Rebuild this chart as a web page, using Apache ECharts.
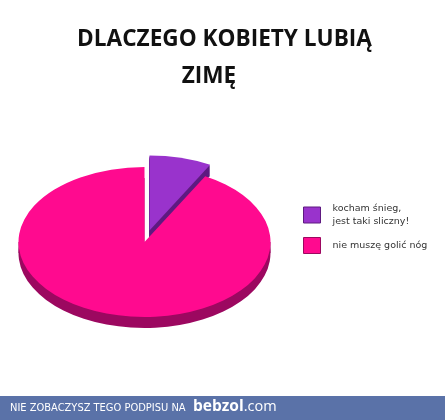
<!DOCTYPE html>
<html>
<head>
<meta charset="utf-8">
<script src="https://cdn.jsdelivr.net/npm/echarts@6/dist/echarts.min.js"></script>
<style>
html,body{margin:0;padding:0;background:#fff;}
#c{width:445px;height:420px;}
</style>
</head>
<body>
<div id="c"></div>
<script>
const titleLines = ['DLACZEGO KOBIETY LUBIĄ', 'ZIMĘ'];
const categories = ['kocham śnieg,\njest taki sliczny!', 'nie muszę golić nóg'];
const values = [8, 92];
const topColors = ['#9933cc', '#ff0a8f'];
const sideColors = ['#5e1a80', '#9c0860'];
const footerText = 'NIE ZOBACZYSZ TEGO PODPISU NA';
const footerBrand = 'bebzol';
const footerDomain = '.com';

const CX = 144.5, CY = 242, RX = 126, RY = 75, DEPTH = 11;
const SY = RY / RX;
const explodeIdx = 0, EXPLODE = 20;

const total = values.reduce((a, b) => a + b, 0);
function angles(i) {
  let s = 0;
  for (let k = 0; k < i; k++) s += values[k];
  const a0 = -Math.PI / 2 + 2 * Math.PI * s / total;
  const a1 = a0 + 2 * Math.PI * values[i] / total;
  return [a0, a1];
}

function makeRender(i) {
  return function (params, api) {
    const [a0, a1] = angles(i);
    const mid = (a0 + a1) / 2;
    let cx = CX, cy = CY;
    if (i === explodeIdx) {
      cx += Math.cos(mid) * EXPLODE;
      cy += Math.sin(mid) * EXPLODE * SY;
    }
    const children = [];
    children.push({
      type: 'sector',
      shape: { cx: cx, cy: cy + DEPTH, r: RX, r0: 0, startAngle: a0, endAngle: a1, clockwise: true },
      originX: cx, originY: cy + DEPTH, scaleY: SY,
      style: { fill: sideColors[i] }
    });
    if (a0 < 0 && a1 > Math.PI) {
      children.push({
        type: 'rect',
        shape: { x: cx - RX, y: cy, width: 2 * RX, height: DEPTH },
        style: { fill: sideColors[i] }
      });
    } else {
      for (let d = 1; d < DEPTH; d += 1) {
        children.push({
          type: 'sector',
          shape: { cx: cx, cy: cy + d, r: RX, r0: 0, startAngle: a0, endAngle: a1, clockwise: true },
          originX: cx, originY: cy + d, scaleY: SY,
          style: { fill: sideColors[i] }
        });
      }
    }
    children.push({
      type: 'sector',
      shape: { cx: cx, cy: cy, r: RX, r0: 0, startAngle: a0, endAngle: a1, clockwise: true },
      originX: cx, originY: cy, scaleY: SY,
      style: { fill: topColors[i] }
    });
    return { type: 'group', children: children };
  };
}

const series = categories.map((name, i) => ({
  type: 'custom',
  name: name,
  coordinateSystem: 'none',
  renderItem: makeRender(i),
  data: [values[i]],
  itemStyle: { color: topColors[i] },
  silent: true
}));

const chart = echarts.init(document.getElementById('c'), null, { renderer: 'canvas' });
chart.setOption({
  animation: false,
  backgroundColor: '#ffffff',
  title: [
    { text: titleLines[0], left: 219.5, textAlign: 'center', top: 23,
      textStyle: { fontFamily: 'Open Sans', fontWeight: 'bold', fontSize: 22.6, color: '#111' } },
    { text: titleLines[1], left: 204, textAlign: 'center', top: 60,
      textStyle: { fontFamily: 'Open Sans', fontWeight: 'bold', fontSize: 22.6, color: '#111' } }
  ],
  legend: {
    orient: 'vertical',
    left: 298, top: 197,
    itemWidth: 17, itemHeight: 16,
    itemGap: 9,
    icon: 'rect',
    data: categories.map((c, i) => ({ name: c, itemStyle: { borderColor: sideColors[i], borderWidth: 1 } })),
    textStyle: { fontFamily: 'DejaVu Sans', fontSize: 9.5, color: '#333', lineHeight: 13, padding: [0, 0, 0, 7] },
    selectedMode: false
  },
  series: series,
  graphic: [
    { type: 'rect', shape: { x: 0, y: 396, width: 445, height: 24 }, style: { fill: '#5a72a8' } },
    { type: 'text', x: 10, y: 408, style: { text: footerText, fill: '#fff', font: '11px "DejaVu Sans Condensed", "DejaVu Sans"', verticalAlign: 'middle' } },
    { type: 'text', x: 193, y: 407, style: {
        text: '{b|' + footerBrand + '}{c|' + footerDomain + '}', verticalAlign: 'middle',
        rich: {
          b: { fill: '#fff', fontFamily: 'Open Sans', fontWeight: 'bold', fontSize: 15.5 },
          c: { fill: '#fff', fontFamily: 'Open Sans', fontSize: 14.5 }
        }
      } }
  ]
});
</script>
</body>
</html>
